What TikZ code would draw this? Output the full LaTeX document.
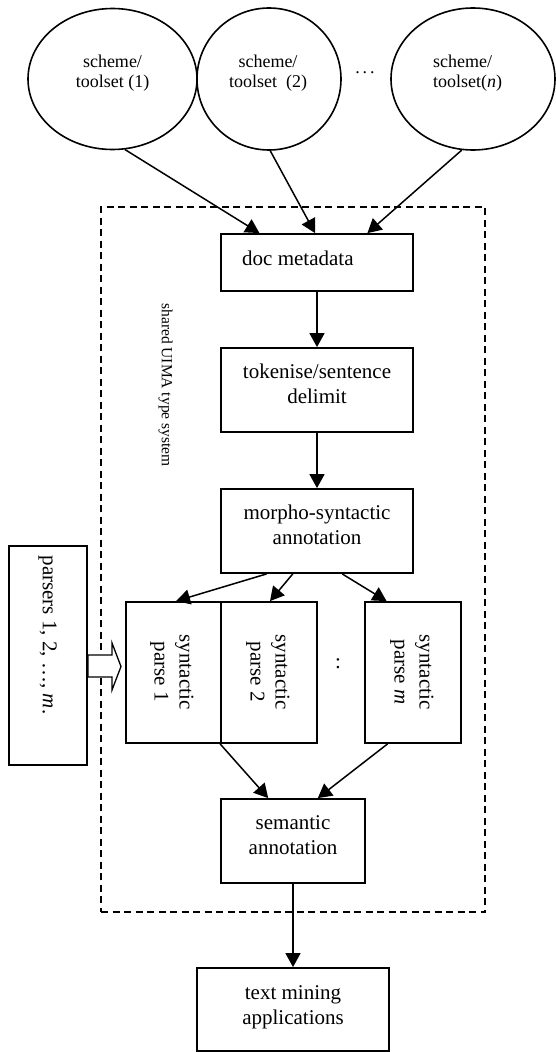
\documentclass[tikz,border=0pt]{standalone}
\usepackage{fontspec}
\setmainfont{Liberation Serif}
\usetikzlibrary{arrows.meta,calc,shapes.geometric}
\newcommand{\twoc}[2]{\begin{tabular}[t]{@{}c@{}}#1\\#2\end{tabular}}
\newcommand{\twol}[2]{\begin{tabular}[t]{@{}l@{}}#1\\#2\end{tabular}}
\begin{document}
\begin{tikzpicture}[x=1pt,y=-1pt,
  stepbox/.style={draw,rectangle,line width=1.8pt,inner sep=0pt},
  ell/.style={draw,ellipse,line width=1.6pt,inner sep=0pt},
  big/.style={font=\fontsize{21}{25}\selectfont,inner sep=0pt},
  small/.style={font=\fontsize{18}{20.5}\selectfont,inner sep=0pt},
  arr/.style={line width=1.5pt,-{Triangle[length=14pt,width=15pt]}},
  frame/.style={draw,rectangle,line width=1.6pt,dash pattern=on 7pt off 4.5pt,inner sep=0pt}
]
\useasboundingbox (0,0) rectangle (556,1052);

% dashed frame
\node[frame,minimum width=384pt,minimum height=705pt] (fr) at (293,559.5) {};

% ellipses
\node[ell,minimum width=169pt,minimum height=141pt] (e1) at (112.5,79) {};
\node[ell,minimum width=144pt,minimum height=142pt] (e2) at (269,79) {};
\node[ell,minimum width=164pt,minimum height=142pt] (e3) at (473,79) {};
\node[small,anchor=base] (t1) at (112.5,67) {\twoc{scheme/}{toolset (1)}};
\node[small,anchor=base] (t2) at (268,67) {\twoc{scheme/}{toolset\ \ (2)}};
\node[small,anchor=base west] (t3) at (433,67) {\twol{scheme/}{toolset(\textit{n})}};
\node[small,anchor=base] (dots) at (365,73.5) {.\,.\,.};

% main boxes
\node[stepbox,minimum width=192pt,minimum height=57pt] (doc) at (317,262.5) {};
\node[big,anchor=base west] (doct) at (242,265) {doc metadata};
\node[stepbox,minimum width=192pt,minimum height=84pt] (tok) at (317,390) {};
\node[big,anchor=base] (tokt) at (317,378) {\twoc{tokenise/sentence}{delimit}};
\node[stepbox,minimum width=192pt,minimum height=84pt] (mor) at (317,531) {};
\node[big,anchor=base] (mort) at (317,519) {\twoc{morpho-syntactic}{annotation}};

% parse boxes
\node[stepbox,minimum width=95pt,minimum height=141pt] (p1) at (173.5,672.5) {};
\node[stepbox,minimum width=96pt,minimum height=141pt] (p2) at (269,672.5) {};
\node[stepbox,minimum width=96pt,minimum height=141pt] (p3) at (413,672.5) {};
\node[big,rotate=-90] (p1t) at (172,672) {\twoc{syntactic}{parse 1}};
\node[big,rotate=-90] (p2t) at (268,672) {\twoc{syntactic}{parse 2}};
\node[big,rotate=-90] (p3t) at (412,672) {\twoc{syntactic}{parse \textit{m}}};
\node[big] (gap) at (338,664) {:};

% semantic and applications
\node[stepbox,minimum width=144pt,minimum height=84pt] (sem) at (293,841) {};
\node[big,anchor=base] (semt) at (293,829) {\twoc{semantic}{annotation}};
\node[stepbox,minimum width=192pt,minimum height=83pt] (tm) at (293,1009.5) {};
\node[big,anchor=base] (tmt) at (293,999) {\twoc{text mining}{applications}};

% parsers box
\node[stepbox,line width=1.5pt,minimum width=78pt,minimum height=219pt] (par) at (48,655.5) {};
\node[big,rotate=-90] (part) at (47.5,635) {parsers 1, 2, \ldots, \textit{m}.};

% frame label
\node[font=\fontsize{15.5}{18}\selectfont,inner sep=0pt,rotate=-90] (uima) at (165.5,385) {shared UIMA type system};

% block arrow
\draw[fill=white,line width=1.3pt] (88,655) -- (112,655) -- (112,643) -- (121,666.5) -- (112,690) -- (112,677) -- (88,677) -- cycle;

% connectors
\draw[arr] (e1.-80) -- ($(doc.north west)!0.203!(doc.north east)$);
\draw[arr] (e2.-89) -- ($(doc.north west)!0.49!(doc.north east)$);
\draw[arr] (e3.-99) -- ($(doc.north west)!0.76!(doc.north east)$);
\draw[arr] (doc) -- (tok);
\draw[arr] (tok) -- (mor);
\draw[arr] ($(mor.south west)!0.24!(mor.south east)$) -- ($(p1.north west)!0.526!(p1.north east)$);
\draw[arr] ($(mor.south west)!0.375!(mor.south east)$) -- ($(p2.north west)!0.51!(p2.north east)$);
\draw[arr] ($(mor.south west)!0.63!(mor.south east)$) -- ($(p3.north west)!0.23!(p3.north east)$);
\draw[arr] (p2.south west) -- ($(sem.north west)!0.33!(sem.north east)$);
\draw[arr] ($(p3.south west)!0.24!(p3.south east)$) -- ($(sem.north west)!0.67!(sem.north east)$);
\draw[arr] (sem) -- (tm);
\end{tikzpicture}
\end{document}
